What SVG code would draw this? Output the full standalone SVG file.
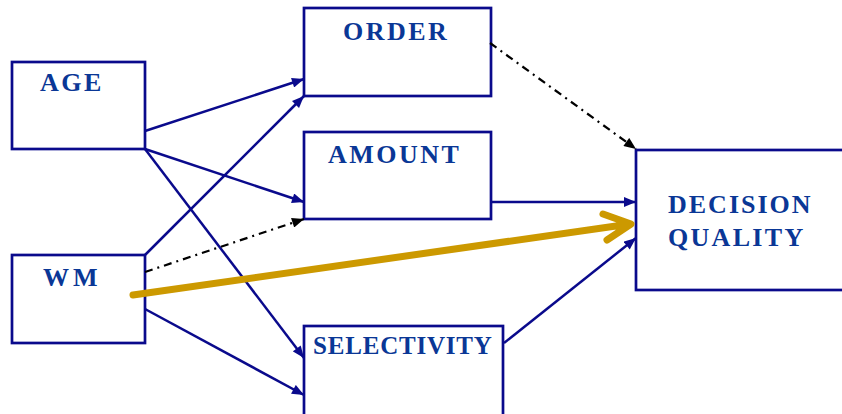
<svg xmlns="http://www.w3.org/2000/svg" width="842" height="414" viewBox="0 0 842 414">
<style>
.box{fill:#fff;stroke:#0a0a8c;stroke-width:2.7}
.lbl{font-weight:bold;font-size:26px;fill:#0a3796;letter-spacing:2.5px}
.ln{stroke:#0a0a8c;stroke-width:2.5;fill:none}
.dd{stroke:#000;stroke-width:2.2;fill:none;stroke-dasharray:8 5 2 5}
.gold{stroke:#cc9900;stroke-width:7;fill:none;stroke-linecap:round;stroke-linejoin:round}
</style>
<defs>
<marker id="ah" viewBox="0 0 12 10" refX="12" refY="5" markerWidth="13" markerHeight="10" markerUnits="userSpaceOnUse" orient="auto">
<path d="M0,0 L12,5 L0,10 Z" fill="#0a0a8c"/>
</marker>
<marker id="ahk" viewBox="0 0 12 10" refX="12" refY="5" markerWidth="13" markerHeight="10" markerUnits="userSpaceOnUse" orient="auto">
<path d="M0,0 L12,5 L0,10 Z" fill="#000"/>
</marker>
</defs>
<rect width="842" height="414" fill="#fff"/>
<g font-family="'Liberation Serif', 'DejaVu Serif', serif">
<g id="age">
<rect class="box" x="12" y="62" width="133" height="87"/>
<text class="lbl" x="40" y="91">AGE</text>
</g>
<g id="wm">
<rect class="box" x="12" y="255" width="133" height="88"/>
<text class="lbl" x="43" y="286" style="letter-spacing:4px">WM</text>
</g>
<g id="order">
<rect class="box" x="304" y="8" width="187" height="88"/>
<text class="lbl" x="343" y="40">ORDER</text>
</g>
<g id="amount">
<rect class="box" x="304" y="132" width="187" height="87"/>
<text class="lbl" x="328" y="163">AMOUNT</text>
</g>
<g id="selectivity">
<rect class="box" x="304" y="326" width="199" height="100"/>
<text class="lbl" x="313" y="354" style="font-size:25px;letter-spacing:0.8px">SELECTIVITY</text>
</g>
<g id="decision">
<rect class="box" x="636" y="150" width="210" height="140"/>
<text class="lbl" x="668" y="213" style="letter-spacing:2px">DECISION</text>
<text class="lbl" x="668" y="246" style="letter-spacing:2.3px">QUALITY</text>
</g>
</g>
<g id="connectors">
<line class="ln" x1="145" y1="131" x2="304" y2="79" marker-end="url(#ah)"/>
<line class="ln" x1="145" y1="255" x2="304" y2="96" marker-end="url(#ah)"/>
<line class="ln" x1="145" y1="149" x2="304" y2="202" marker-end="url(#ah)"/>
<line class="ln" x1="145" y1="149" x2="304" y2="358" marker-end="url(#ah)"/>
<line class="dd" x1="145" y1="272" x2="304" y2="219" marker-end="url(#ahk)"/>
<line class="ln" x1="145" y1="309" x2="304" y2="395" marker-end="url(#ah)"/>
<line class="dd" x1="490" y1="43" x2="636" y2="149" marker-end="url(#ahk)"/>
<line class="ln" x1="490" y1="202" x2="636" y2="202" marker-end="url(#ah)"/>
<line class="ln" x1="504" y1="343" x2="636" y2="238" marker-end="url(#ah)"/>
<path class="gold" d="M133,295 L630,224 M603,214 L631,224 L607,240"/>
</g>
</svg>
